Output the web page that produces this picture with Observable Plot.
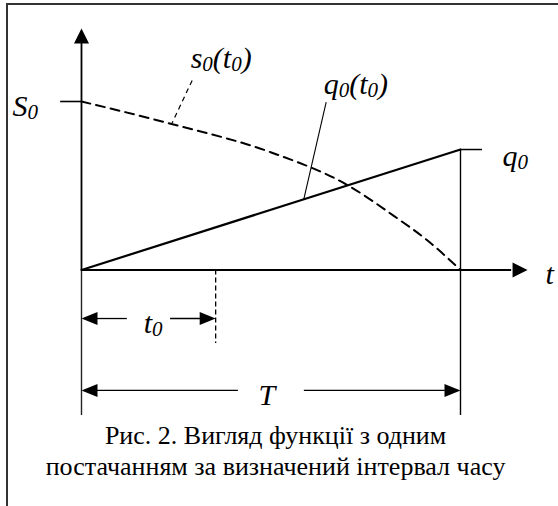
<!DOCTYPE html>
<html><head><meta charset="utf-8">
<script src="https://cdn.jsdelivr.net/npm/d3@7"></script>
<script src="https://cdn.jsdelivr.net/npm/@observablehq/plot@0.6"></script>
<style>
html,body{margin:0;padding:0;background:#fff;}
#wrap{position:relative;width:558px;height:506px;overflow:hidden;}
#frame{position:absolute;left:6px;top:3px;width:700px;height:700px;border-top:2px solid #333;border-left:2px solid #333;pointer-events:none;z-index:2;}
svg{display:block}
</style></head><body><div id="wrap"><div id="frame"></div></div>
<script>
// ---- data ----
const curveT = [0, 0.235, 0.499, 0.704, 0.823, 0.913, 1];
const curveS = [1, 0.868, 0.699, 0.501, 0.323, 0.175, 0];
const T = 1, S0 = 1, Q0 = 0.715, T0 = 0.354;
const lineT = [0, T];
const lineQ = [0, Q0];
const labelS0 = "S_0", labelS = "s_0(t_0)", labelQ = "q_0(t_0)", labelQ0 = "q_0", labelTaxis = "t", labelT = "T", labelT0 = "t_0";
const caption = ["Рис. 2. Вигляд функції з одним", "постачанням за визначений інтервал часу"];

const MAIN = 30, SUB = 21, SERIF = "Liberation Serif";

function head(len, wid) {
  return {draw(ctx) { ctx.moveTo(0, 0); ctx.lineTo(wid / 2, len); ctx.lineTo(-wid / 2, len); ctx.closePath(); }};
}
const axisHead = head(15, 15), dimHead = head(16, 13);

const curve = curveT.map((t, i) => ({t, s: curveS[i]}));
const qline = lineT.map((t, i) => ({t, q: lineQ[i]}));
const qAt = t => Q0 * t / T;

const it = {fontFamily: SERIF, fontSize: MAIN, fontStyle: "italic", textAnchor: "start", lineAnchor: "bottom", fill: "black"};

const plot = Plot.plot({
  width: 558, height: 506,
  margin: 0,
  x: {domain: [-0.2137, 1.2586], axis: null},
  y: {domain: [-1.4036, 1.5994], axis: null},
  marks: [
    // axes
    Plot.ruleX([0], {y1: 0, y2: 1.344, stroke: "black", strokeWidth: 1.8}),
    Plot.ruleX([0], {y1: -0.864, y2: 0, stroke: "#222", strokeWidth: 1.4}),
    Plot.dot([0], {x: 0, y: [1.433], symbol: axisHead, fill: "black", stroke: "none"}),
    Plot.ruleY([0], {x1: 0, x2: 1.135, stroke: "black", strokeWidth: 2}),
    Plot.dot([0], {x: [1.177], y: 0, symbol: axisHead, rotate: 90, fill: "black", stroke: "none"}),
    // S0 tick
    Plot.ruleY([S0], {x1: -0.055, x2: 0, stroke: "black", strokeWidth: 1.6}),
    // s0(t0) curve
    Plot.line(curve, {x: "t", y: "s", curve: "monotone-x", stroke: "black", strokeWidth: 2, strokeDasharray: "9,6"}),
    // q0(t0) line
    Plot.line(qline, {x: "t", y: "q", stroke: "black", strokeWidth: 2.2}),
    Plot.ruleY([Q0], {x1: T, x2: 1.058, stroke: "black", strokeWidth: 1.5}),
    Plot.ruleX([T], {y1: -0.864, y2: Q0, stroke: "black", strokeWidth: 1.4}),
    // t0 marker
    Plot.ruleX([T0], {y1: 0, y2: -0.436, stroke: "black", strokeWidth: 1.3, strokeDasharray: "5,3"}),
    // leaders
    Plot.link([0], {x1: [0.292], y1: [1.125], x2: [0.239], y2: [0.872], stroke: "black", strokeWidth: 1.2, strokeDasharray: "5,4"}),
    Plot.link([0], {x1: [0.6456], y1: [0.996], x2: [0.5865], y2: [qAt(0.5865)], stroke: "black", strokeWidth: 1.1}),
    // t0 dimension
    Plot.dot([0], {x: 0, y: [-0.288], symbol: dimHead, rotate: -90, fill: "black", stroke: "none"}),
    Plot.ruleY([-0.288], {x1: 0.04, x2: 0.121, stroke: "black", strokeWidth: 1.3}),
    Plot.ruleY([-0.288], {x1: 0.235, x2: 0.32, stroke: "black", strokeWidth: 1.3}),
    Plot.dot([0], {x: [T0], y: [-0.288], symbol: dimHead, rotate: 90, fill: "black", stroke: "none"}),
    // T dimension
    Plot.dot([0], {x: 0, y: [-0.715], symbol: dimHead, rotate: -90, fill: "black", stroke: "none"}),
    Plot.ruleY([-0.715], {x1: 0.04, x2: 0.414, stroke: "black", strokeWidth: 1.3}),
    Plot.ruleY([-0.715], {x1: 0.588, x2: 0.96, stroke: "black", strokeWidth: 1.3}),
    Plot.dot([0], {x: [T], y: [-0.715], symbol: dimHead, rotate: 90, fill: "black", stroke: "none"}),
    // labels
    Plot.text([labelS0], {x: [-0.182], y: [0.911], text: d => d, ...it}),
    Plot.text([labelS], {x: [0.288], y: [1.196], text: d => d, ...it}),
    Plot.text([labelQ], {x: [0.639], y: [1.047], text: d => d, ...it}),
    Plot.text([labelQ0], {x: [1.111], y: [0.620], text: d => d, ...it}),
    Plot.text([labelTaxis], {x: [1.224], y: [-0.086], text: d => d, ...it}),
    Plot.text([labelT], {x: [0.467], y: [-0.804], text: d => d, ...it}),
    Plot.text([labelT0], {x: [0.164], y: [-0.371], text: d => d, ...it}),
    // caption
    Plot.text(caption, {x: [0.512, 0.512], y: [-1.033, -1.218], text: d => d, fontFamily: SERIF, fontSize: 26, textAnchor: "middle", lineAnchor: "bottom", fill: "black"})
  ]
});

// subscripts
plot.querySelectorAll("text").forEach(el => {
  const s = el.textContent;
  if (!s.includes("_")) return;
  el.textContent = "";
  let shifted = false;
  for (const p of s.split(/(_\d)/)) {
    if (!p) continue;
    const ts = document.createElementNS("http://www.w3.org/2000/svg", "tspan");
    if (p.startsWith("_")) {
      ts.textContent = p.slice(1); ts.setAttribute("font-size", SUB); ts.setAttribute("dy", 3); shifted = true;
    } else {
      ts.textContent = p; if (shifted) { ts.setAttribute("dy", -3); shifted = false; }
    }
    el.appendChild(ts);
  }
});

document.getElementById("wrap").prepend(plot);
</script>
</body></html>
